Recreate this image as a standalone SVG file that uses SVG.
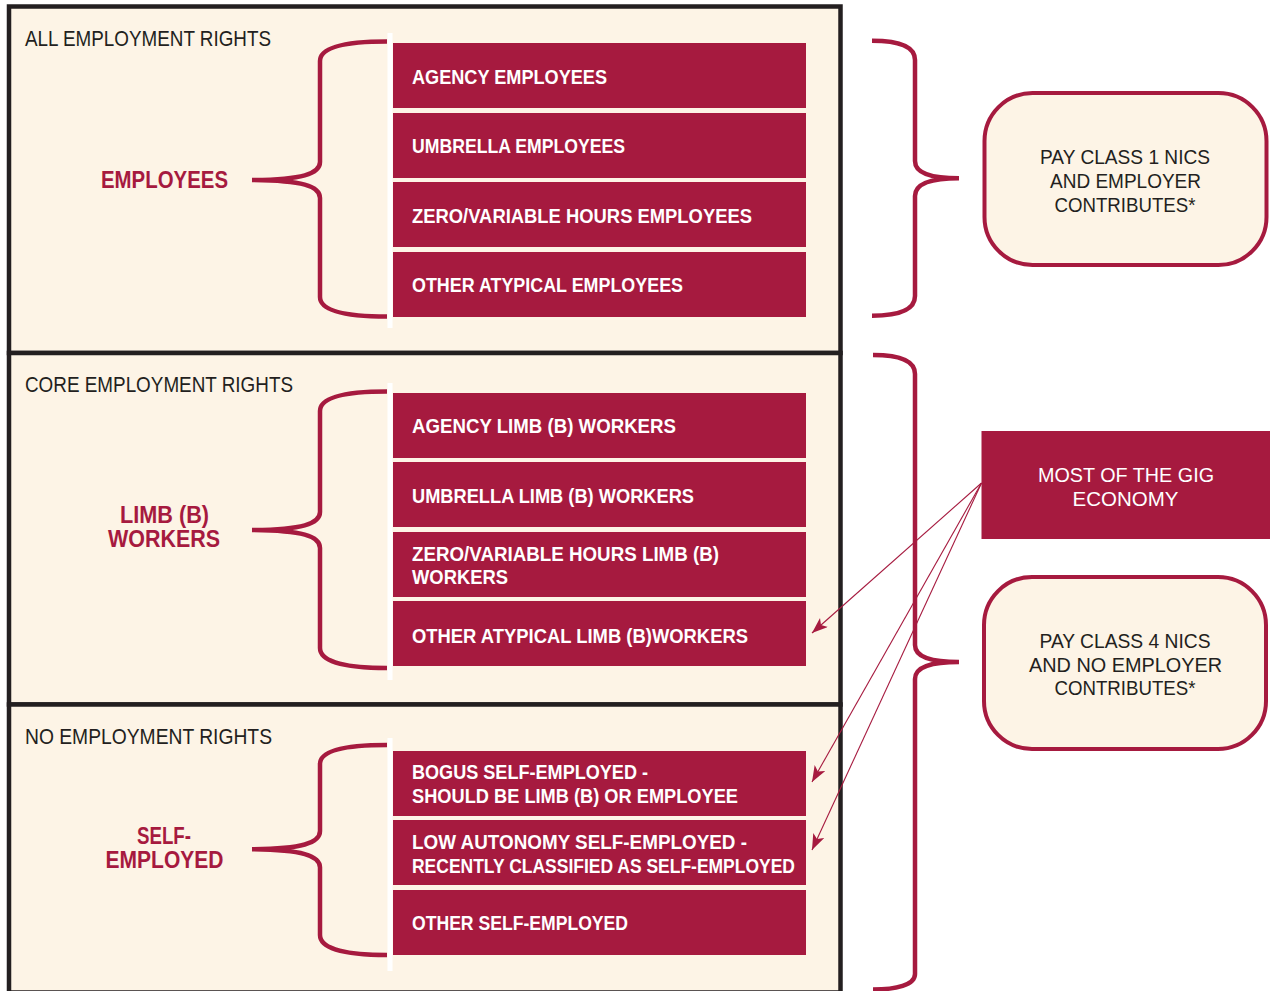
<svg xmlns="http://www.w3.org/2000/svg" width="1270" height="991" viewBox="0 0 1270 991">
  <defs>
    <style>
      .panel { fill: #FDF4E6; stroke: #231F20; stroke-width: 4.5; }
      .item { fill: #A61A3F; }
      .item-text { font-family: "Liberation Sans", Arial, sans-serif; font-weight: bold; font-size: 20.5px; fill: #FFFFFF; }
      .title { font-family: "Liberation Sans", Arial, sans-serif; font-size: 22px; fill: #231F20; }
      .group-label { font-family: "Liberation Sans", Arial, sans-serif; font-weight: bold; font-size: 23px; fill: #A61A3F; text-anchor: middle; }
      .divider { stroke: #FFFFFF; stroke-width: 5; }
      .brace { fill: none; stroke: #A61A3F; stroke-width: 4.5; stroke-linecap: butt; }
      .outcome { fill: #FDF4E6; stroke: #A61A3F; stroke-width: 4; }
      .outcome-text { font-family: "Liberation Sans", Arial, sans-serif; font-size: 21px; fill: #231F20; text-anchor: middle; }
      .gig { fill: #A61A3F; }
      .gig-text { font-family: "Liberation Sans", Arial, sans-serif; font-size: 21px; fill: #FFFFFF; text-anchor: middle; }
      .arrow { fill: none; stroke: #A61A3F; stroke-width: 1.1; marker-end: url(#head); }
    </style>
    <marker id="head" markerUnits="userSpaceOnUse" markerWidth="18" markerHeight="14" refX="16" refY="6" orient="auto">
      <path d="M0,0 L16,6 L0,12 L4,6 z" fill="#A61A3F"/>
    </marker>
  </defs>

  <rect width="1270" height="991" fill="#FFFFFF"/>

  <!-- Panel 1: all employment rights -->
  <g id="panel-all-rights">
    <rect class="panel" x="9" y="6.5" width="831.5" height="346.5"/>
    <text class="title" x="25" y="46" textLength="246" lengthAdjust="spacingAndGlyphs">ALL EMPLOYMENT RIGHTS</text>
    <text class="group-label" x="164.5" y="188" textLength="127" lengthAdjust="spacingAndGlyphs">EMPLOYEES</text>
    <line class="divider" x1="390" y1="33" x2="390" y2="328"/>
  </g>
  <g id="agency-employees">
    <rect class="item" x="393" y="43" width="413" height="65"/>
    <text class="item-text" x="412" y="84" textLength="195" lengthAdjust="spacingAndGlyphs">AGENCY EMPLOYEES</text>
  </g>
  <g id="umbrella-employees">
    <rect class="item" x="393" y="113" width="413" height="65"/>
    <text class="item-text" x="412" y="153" textLength="213" lengthAdjust="spacingAndGlyphs">UMBRELLA EMPLOYEES</text>
  </g>
  <g id="zero-hours-employees">
    <rect class="item" x="393" y="182" width="413" height="65"/>
    <text class="item-text" x="412" y="223" textLength="340" lengthAdjust="spacingAndGlyphs">ZERO/VARIABLE HOURS EMPLOYEES</text>
  </g>
  <g id="other-atypical-employees">
    <rect class="item" x="393" y="252" width="413" height="65"/>
    <text class="item-text" x="412" y="292" textLength="271" lengthAdjust="spacingAndGlyphs">OTHER ATYPICAL EMPLOYEES</text>
  </g>

  <!-- Panel 2: core employment rights -->
  <g id="panel-core-rights">
    <rect class="panel" x="9" y="353" width="831.5" height="351.5"/>
    <text class="title" x="25" y="392" textLength="268" lengthAdjust="spacingAndGlyphs">CORE EMPLOYMENT RIGHTS</text>
    <text class="group-label" x="164.5" y="523" textLength="89" lengthAdjust="spacingAndGlyphs">LIMB (B)</text>
    <text class="group-label" x="164" y="546.5" textLength="112" lengthAdjust="spacingAndGlyphs">WORKERS</text>
    <line class="divider" x1="390" y1="383" x2="390" y2="680"/>
  </g>
  <g id="agency-limb-b">
    <rect class="item" x="393" y="393" width="413" height="65"/>
    <text class="item-text" x="412" y="433" textLength="264" lengthAdjust="spacingAndGlyphs">AGENCY LIMB (B) WORKERS</text>
  </g>
  <g id="umbrella-limb-b">
    <rect class="item" x="393" y="462" width="413" height="65"/>
    <text class="item-text" x="412" y="503" textLength="282" lengthAdjust="spacingAndGlyphs">UMBRELLA LIMB (B) WORKERS</text>
  </g>
  <g id="zero-hours-limb-b">
    <rect class="item" x="393" y="532" width="413" height="65"/>
    <text class="item-text" x="412" y="561" textLength="307" lengthAdjust="spacingAndGlyphs">ZERO/VARIABLE HOURS LIMB (B)</text>
    <text class="item-text" x="412" y="584" textLength="96" lengthAdjust="spacingAndGlyphs">WORKERS</text>
  </g>
  <g id="other-atypical-limb-b">
    <rect class="item" x="393" y="601" width="413" height="65"/>
    <text class="item-text" x="412" y="643" textLength="336" lengthAdjust="spacingAndGlyphs">OTHER ATYPICAL LIMB (B)WORKERS</text>
  </g>

  <!-- Panel 3: no employment rights -->
  <g id="panel-no-rights">
    <rect class="panel" x="9" y="704.5" width="831.5" height="288"/>
    <text class="title" x="25" y="743.5" textLength="247" lengthAdjust="spacingAndGlyphs">NO EMPLOYMENT RIGHTS</text>
    <text class="group-label" x="164" y="844" textLength="54" lengthAdjust="spacingAndGlyphs">SELF-</text>
    <text class="group-label" x="164.5" y="867.5" textLength="118" lengthAdjust="spacingAndGlyphs">EMPLOYED</text>
    <line class="divider" x1="390" y1="738" x2="390" y2="971"/>
  </g>
  <g id="bogus-self-employed">
    <rect class="item" x="393" y="751" width="413" height="65"/>
    <text class="item-text" x="412" y="779" textLength="236" lengthAdjust="spacingAndGlyphs">BOGUS SELF-EMPLOYED -</text>
    <text class="item-text" x="412" y="803" textLength="326" lengthAdjust="spacingAndGlyphs">SHOULD BE LIMB (B) OR EMPLOYEE</text>
  </g>
  <g id="low-autonomy-self-employed">
    <rect class="item" x="393" y="820" width="413" height="65"/>
    <text class="item-text" x="412" y="848.5" textLength="335" lengthAdjust="spacingAndGlyphs">LOW AUTONOMY SELF-EMPLOYED -</text>
    <text class="item-text" x="412" y="872.5" textLength="383" lengthAdjust="spacingAndGlyphs">RECENTLY CLASSIFIED AS SELF-EMPLOYED</text>
  </g>
  <g id="other-self-employed">
    <rect class="item" x="393" y="890" width="413" height="65"/>
    <text class="item-text" x="412" y="929.5" textLength="216" lengthAdjust="spacingAndGlyphs">OTHER SELF-EMPLOYED</text>
  </g>

  <!-- Outcomes on the right -->
  <g id="class-1-nics">
    <rect class="outcome" x="984.5" y="93" width="282" height="172" rx="48" ry="48"/>
    <text class="outcome-text" x="1125" y="163.5" textLength="170" lengthAdjust="spacingAndGlyphs">PAY CLASS 1 NICS</text>
    <text class="outcome-text" x="1125.5" y="187.5" textLength="151" lengthAdjust="spacingAndGlyphs">AND EMPLOYER</text>
    <text class="outcome-text" x="1125" y="211.5" textLength="141" lengthAdjust="spacingAndGlyphs">CONTRIBUTES*</text>
  </g>
  <g id="gig-economy">
    <rect class="gig" x="981.5" y="431" width="290" height="108"/>
    <text class="gig-text" x="1126" y="481.5" textLength="176" lengthAdjust="spacingAndGlyphs">MOST OF THE GIG</text>
    <text class="gig-text" x="1125.5" y="505.5" textLength="106" lengthAdjust="spacingAndGlyphs">ECONOMY</text>
  </g>
  <g id="class-4-nics">
    <rect class="outcome" x="984" y="577" width="282" height="172" rx="48" ry="48"/>
    <text class="outcome-text" x="1125" y="647.5" textLength="171" lengthAdjust="spacingAndGlyphs">PAY CLASS 4 NICS</text>
    <text class="outcome-text" x="1125.5" y="671.5" textLength="193" lengthAdjust="spacingAndGlyphs">AND NO EMPLOYER</text>
    <text class="outcome-text" x="1125" y="695" textLength="141" lengthAdjust="spacingAndGlyphs">CONTRIBUTES*</text>
  </g>

  <!-- Connectors: grouping braces and gig-economy arrows -->
  <g id="connectors">
    <path class="brace" d="M387,41.5 C350,41.5 320,46 320,61 V162 C320,174 302,179.5 252,180 M252,180 C302,180.5 320,186 320,198 V297 C320,312 350,316.5 387,316.5"/>
    <path class="brace" d="M387,391.5 C350,391.5 320,396 320,411 V512 C320,524 302,529.5 252,530 M252,530 C302,530.5 320,536 320,548 V648 C320,663 350,668 387,668"/>
    <path class="brace" d="M387,745 C350,745 320,749.5 320,764 V831 C320,843 302,848.8 252,849.3 M252,849.3 C302,849.8 320,855.5 320,867.5 V935 C320,950 350,955 387,955"/>
    <path class="brace" d="M872,40.7 C895,40.7 915,45 915,60 V161 C915,173 930,178.3 959,178.3 M959,178.3 C930,178.3 915,184 915,196 V296 C915,311 895,315.7 872,315.7"/>
    <path class="brace" d="M873,355 C896,355 915,359 915,374 V645 C915,657 930,662 959,662 M959,662 C930,662 915,667 915,679 V974 C915,985 896,989.5 873,989.5"/>

    <line class="arrow" x1="981.5" y1="483" x2="812" y2="633"/>
    <line class="arrow" x1="981.5" y1="483" x2="812" y2="782"/>
    <line class="arrow" x1="981.5" y1="483" x2="812" y2="850"/>
  </g>
</svg>
